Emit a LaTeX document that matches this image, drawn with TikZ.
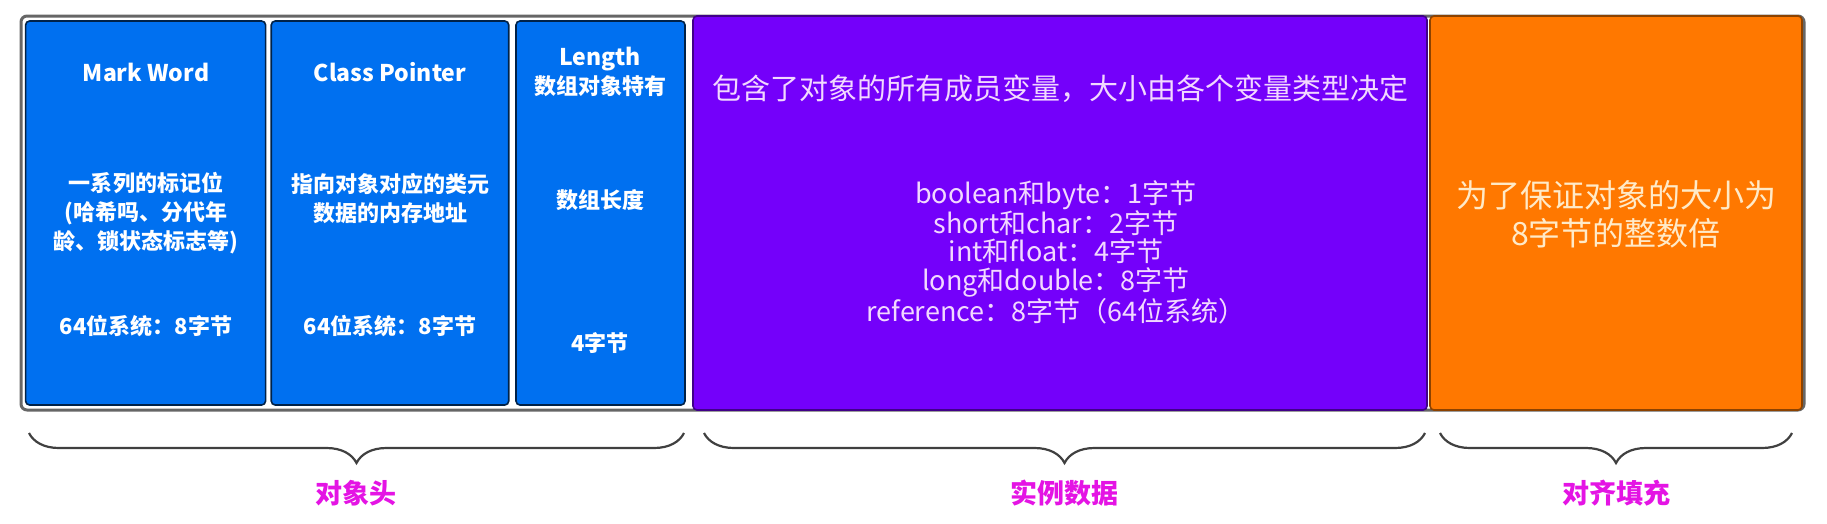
\documentclass[tikz,border=0pt]{standalone}
\usepackage{fontspec}
\setmainfont{Noto Sans CJK SC}
\usetikzlibrary{decorations.pathreplacing}
\definecolor{hdrblue}{RGB}{0,112,240}
\definecolor{instpurple}{RGB}{116,0,250}
\definecolor{padorange}{RGB}{255,120,0}
\definecolor{lblmagenta}{RGB}{228,20,228}
\definecolor{purpletxt}{RGB}{242,216,255}
\definecolor{orangetxt}{RGB}{255,234,200}
\tikzset{
  bluefield/.style={draw=black!70!hdrblue, fill=hdrblue, rounded corners=4pt, line width=1.6pt, inner sep=0pt, minimum height=384},
  bigfield/.style={draw=#1!55!black, fill=#1, rounded corners=4pt, line width=1.6pt, inner sep=0pt, minimum height=394},
  headtxt/.style={text=white, font=\fontsize{23}{29}\selectfont\bfseries, align=center, inner sep=0pt},
  bodytxt/.style={text=white, font=\fontsize{22}{29}\selectfont\bfseries, align=center, inner sep=0pt},
  bracket/.style={decorate, decoration={brace, mirror, amplitude=30pt}, draw=black!75, line width=2.2pt},
  grouplbl/.style={text=lblmagenta, font=\fontsize{27}{30}\selectfont\bfseries, inner sep=0pt}
}
\begin{document}
\begin{tikzpicture}[x=1pt,y=-1pt]
\useasboundingbox (0,0) rectangle (1827,523);
% outer frame
\draw[draw=black!60, line width=3pt, rounded corners=6pt] (21,16) rectangle (1804,410);
% object header fields
\node[bluefield, minimum width=240] (mark) at (145.6,213) {};
\node[bluefield, minimum width=237.5] (klass) at (390,213) {};
\node[bluefield, minimum width=169] (len) at (600.5,213) {};
% instance data and padding
\node[bigfield=instpurple, minimum width=734] (inst) at (1060,213) {};
\node[bigfield=padorange, minimum width=372] (pad) at (1616,213) {};
% texts
\node[headtxt] (markT) at (146,72) {Mark Word};
\node[bodytxt] (markD) at (146,213) {一系列的标记位\\(哈希吗、分代年\\龄、锁状态标志等)};
\node[bodytxt] (markS) at (146,326) {64位系统：8字节};
\node[headtxt] (klassT) at (390,72) {Class Pointer};
\node[bodytxt] (klassD) at (390,199) {指向对象对应的类元\\数据的内存地址};
\node[bodytxt] (klassS) at (390,326) {64位系统：8字节};
\node[bodytxt] (lenT) at (600,72) {{\fontsize{23}{29}\selectfont Length}\\数组对象特有};
\node[bodytxt] (lenD) at (600,200) {数组长度};
\node[bodytxt] (lenS) at (600,343) {4字节};
\node[text=purpletxt, font=\fontsize{29}{32}\selectfont, inner sep=0pt] (instT) at (1060,89) {包含了对象的所有成员变量，大小由各个变量类型决定};
\node[text=purpletxt, font=\fontsize{27}{28.5}\selectfont, align=center, inner sep=0pt] (instD) at (1056,252)
  {boolean和byte：1字节\\short和char：2字节\\int和float：4字节\\long和double：8字节\\reference：8字节（64位系统）};
\node[text=orangetxt, font=\fontsize{32}{38}\selectfont, align=center, inner sep=0pt] (padD) at (1616,214)
  {为了保证对象的大小为\\8字节的整数倍};
% braces
\coordinate (hdrL) at (29,433);
\coordinate (hdrR) at (684,433);
\coordinate (instL) at (704,433);
\coordinate (instR) at (1425,433);
\coordinate (padL) at (1440,433);
\coordinate (padR) at (1792,433);
\draw[bracket] (hdrL) -- (hdrR);
\draw[bracket] (instL) -- (instR);
\draw[bracket] (padL) -- (padR);
\node[grouplbl] (hdrLbl) at (356,493) {对象头};
\node[grouplbl] (instLbl) at (1064,493) {实例数据};
\node[grouplbl] (padLbl) at (1616,493) {对齐填充};
\end{tikzpicture}
\end{document}
